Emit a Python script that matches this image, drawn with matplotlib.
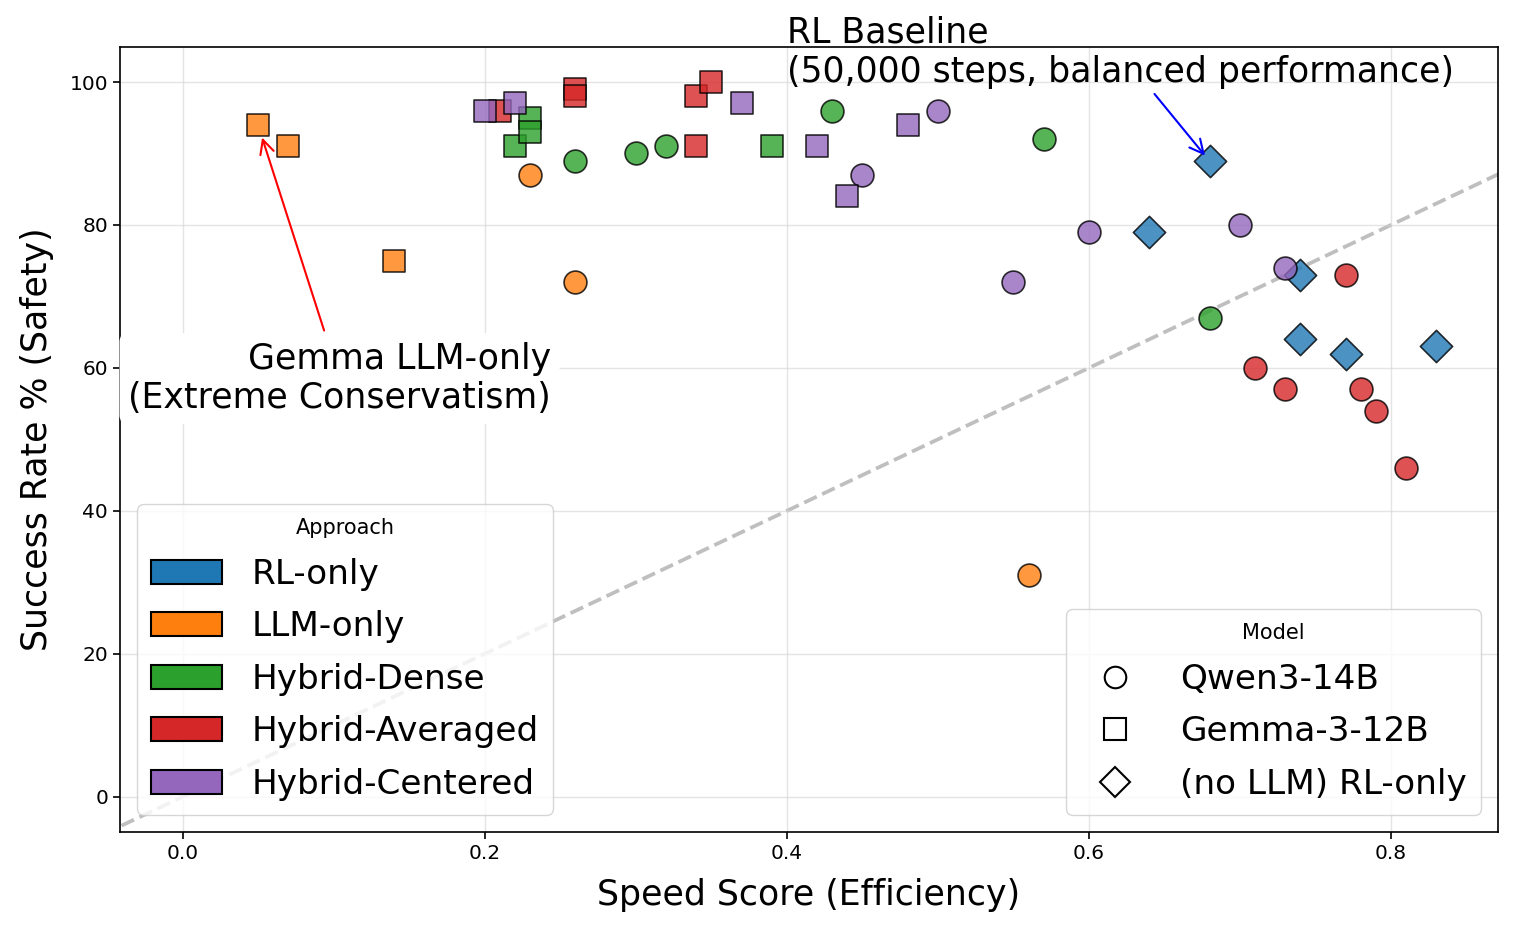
import matplotlib
matplotlib.use("Agg")
import matplotlib.pyplot as plt
from matplotlib.patches import Patch
from matplotlib.lines import Line2D
import numpy as np

# ---------------- data ----------------
approaches = ["RL-only", "LLM-only", "Hybrid-Dense", "Hybrid-Averaged", "Hybrid-Centered"]
approach_colors = ["#1f77b4", "#ff7f0e", "#2ca02c", "#d62728", "#9467bd"]
models = ["Qwen3-14B", "Gemma-3-12B", "(no LLM) RL-only"]
model_markers = ["o", "s", "D"]

# RL-only (no LLM) -> diamonds
rl_speed = [0.68, 0.64, 0.74, 0.74, 0.77, 0.83]
rl_success = [89, 79, 73, 64, 62, 63]

# LLM-only
llm_qwen_speed = [0.23, 0.26, 0.56]
llm_qwen_success = [87, 72, 31]
llm_gemma_speed = [0.05, 0.07, 0.14]
llm_gemma_success = [94, 91, 75]

# Hybrid-Dense
dense_qwen_speed = [0.26, 0.30, 0.32, 0.43, 0.57, 0.68]
dense_qwen_success = [89, 90, 91, 96, 92, 67]
dense_gemma_speed = [0.22, 0.23, 0.23, 0.39]
dense_gemma_success = [91, 95, 93, 91]

# Hybrid-Averaged
avg_qwen_speed = [0.71, 0.73, 0.77, 0.78, 0.79, 0.81]
avg_qwen_success = [60, 57, 73, 57, 54, 46]
avg_gemma_speed = [0.21, 0.26, 0.26, 0.34, 0.35, 0.34]
avg_gemma_success = [96, 99, 98, 98, 100, 91]

# Hybrid-Centered
cen_qwen_speed = [0.45, 0.50, 0.55, 0.60, 0.70, 0.73]
cen_qwen_success = [87, 96, 72, 79, 80, 74]
cen_gemma_speed = [0.20, 0.22, 0.37, 0.42, 0.44, 0.48]
cen_gemma_success = [96, 97, 97, 91, 84, 94]

series = [
    ("RL-only", "(no LLM) RL-only", rl_speed, rl_success),
    ("LLM-only", "Qwen3-14B", llm_qwen_speed, llm_qwen_success),
    ("LLM-only", "Gemma-3-12B", llm_gemma_speed, llm_gemma_success),
    ("Hybrid-Dense", "Qwen3-14B", dense_qwen_speed, dense_qwen_success),
    ("Hybrid-Dense", "Gemma-3-12B", dense_gemma_speed, dense_gemma_success),
    ("Hybrid-Averaged", "Qwen3-14B", avg_qwen_speed, avg_qwen_success),
    ("Hybrid-Averaged", "Gemma-3-12B", avg_gemma_speed, avg_gemma_success),
    ("Hybrid-Centered", "Qwen3-14B", cen_qwen_speed, cen_qwen_success),
    ("Hybrid-Centered", "Gemma-3-12B", cen_gemma_speed, cen_gemma_success),
]

x_ticks = [0.0, 0.2, 0.4, 0.6, 0.8]
y_ticks = [0, 20, 40, 60, 80, 100]

# ---------------- figure ----------------
plt.rcParams['font.family'] = ['DejaVu Sans']
fig = plt.figure(figsize=(15.28, 9.30), dpi=100)
ax = fig.add_axes([120/1528, 1-831.7/930, (1498-120)/1528, (831.7-46.7)/930])

color_of = dict(zip(approaches, approach_colors))
marker_of = dict(zip(models, model_markers))

for appr, model, xs, ys in series:
    ax.scatter(xs, ys, s=270, c=color_of[appr], marker=marker_of[model],
               alpha=0.8, edgecolors='black', linewidths=1.2, zorder=3)

# reference diagonal
diag_x = np.array([-0.1, 1.0])
ax.plot(diag_x, 100*diag_x, linestyle='--', color='gray', alpha=0.5, lw=2.7, zorder=1)

ax.set_xlim(-0.0415, 0.8708)
ax.set_ylim(-4.9, 104.94)
ax.set_xticks(x_ticks)
ax.set_yticks(y_ticks)
ax.tick_params(labelsize=14.5, length=5, width=1.2)
ax.grid(True, color='lightgray', alpha=0.6, lw=1.0)
for sp in ax.spines.values():
    sp.set_linewidth(1.2)

ax.set_xlabel("Speed Score (Efficiency)", fontsize=25, labelpad=11)
ax.set_ylabel("Success Rate % (Safety)", fontsize=25, labelpad=11)

# annotations
ax.annotate("RL Baseline\n(50,000 steps, balanced performance)",
            xy=(0.678, 89.4), xytext=(0.400, 100.0),
            ha='left', va='baseline', fontsize=25,
            arrowprops=dict(arrowstyle='->', color='blue', lw=1.5),
            annotation_clip=False, zorder=5)
ax.annotate("Gemma LLM-only\n(Extreme Conservatism)",
            xy=(0.052, 92.6), xytext=(0.2438, 54.35),
            ha='right', va='baseline', fontsize=25,
            bbox=dict(boxstyle='round,pad=0.25', fc='white', ec='none'),
            arrowprops=dict(arrowstyle='->', color='red', lw=1.5),
            zorder=5)

# legends
leg_kw = dict(fontsize=24.7, title_fontsize=15, labelspacing=0.57,
              handlelength=2.08, handletextpad=0.86)
approach_handles = [Patch(facecolor=c, edgecolor='black', lw=1.5, label=a)
                    for a, c in zip(approaches, approach_colors)]
leg1 = ax.legend(handles=approach_handles, title="Approach", loc='lower left', **leg_kw)
ax.add_artist(leg1)
model_handles = [Line2D([], [], marker=m, linestyle='none', markersize=15.5 if m != 'D' else 15,
                        markerfacecolor='white', markeredgecolor='black',
                        markeredgewidth=1.5, label=lab)
                 for lab, m in zip(models, model_markers)]
ax.legend(handles=model_handles, title="Model", loc='lower right', **leg_kw)

fig.savefig("out.png", dpi=100)
